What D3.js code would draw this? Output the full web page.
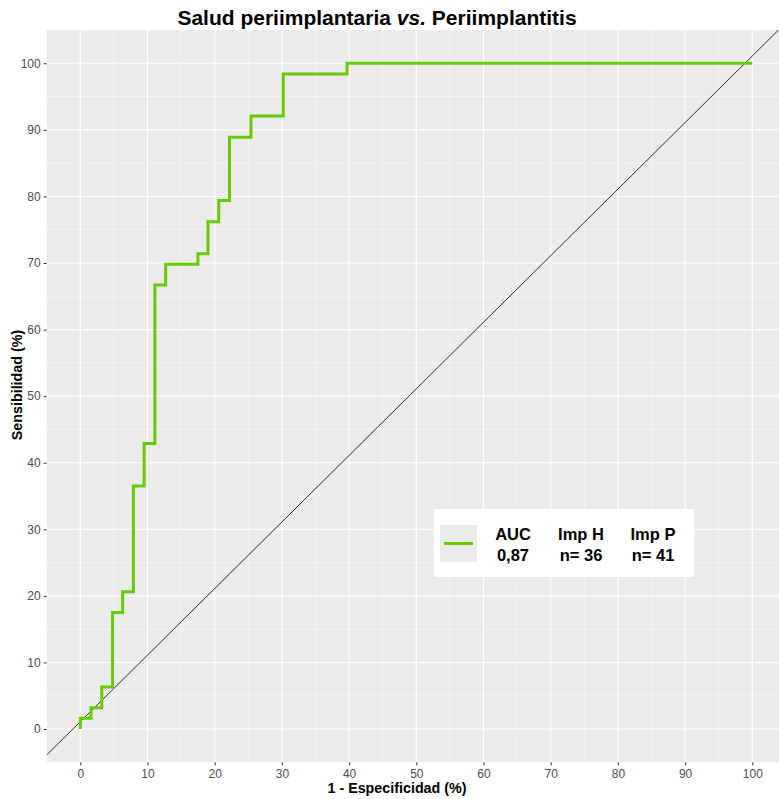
<!DOCTYPE html>
<html>
<head>
<meta charset="utf-8">
<script src="https://cdn.jsdelivr.net/npm/d3@7"></script>
<style>
  html, body { margin: 0; padding: 0; background: #fff; }
  svg { display: block; font-family: "Liberation Sans", Arial, sans-serif; }
</style>
</head>
<body>
<svg id="chart" width="779" height="799"></svg>
<script>
// ROC curve vertices: 1 - specificity (%) and sensitivity (%)
const fpr = [0, 0, 1.6, 1.6, 3.2, 3.2, 4.8, 4.8, 6.3, 6.3, 7.9, 7.9, 9.5, 9.5, 11.1, 11.1, 12.7, 12.7, 17.5, 17.5, 19.0, 19.0, 20.6, 20.6, 22.2, 22.2, 25.4, 25.4, 30.2, 30.2, 39.7, 39.7, 100];
const tpr = [0, 1.6, 1.6, 3.2, 3.2, 6.3, 6.3, 17.5, 17.5, 20.6, 20.6, 36.5, 36.5, 42.9, 42.9, 66.7, 66.7, 69.8, 69.8, 71.4, 71.4, 76.2, 76.2, 79.4, 79.4, 88.9, 88.9, 92.1, 92.1, 98.4, 98.4, 100, 100];
// reference diagonal end points
const diagX = [-5, 105];
const diagY = [-3.9, 106.1];
const xTicks = [0, 10, 20, 30, 40, 50, 60, 70, 80, 90, 100];
const yTicks = [0, 10, 20, 30, 40, 50, 60, 70, 80, 90, 100];
const minorTicks = [5, 15, 25, 35, 45, 55, 65, 75, 85, 95];
const legendCols = [["AUC", "0,87"], ["Imp H", "n= 36"], ["Imp P", "n= 41"]];
const lineColor = "#66CC00";

(function () {
const svg = d3.select("#chart");
const pL = 46.7, pR = 785.9, pT = 30.0, pB = 762.3;
const x = d3.scaleLinear().domain([-5, 105]).range([pL, pR]);
const y = d3.scaleLinear().domain([-5, 105]).range([pB, pT]);

svg.append("defs").append("clipPath").attr("id", "clip")
  .append("rect").attr("x", pL).attr("y", pT).attr("width", pR - pL).attr("height", pB - pT);

// panel
svg.append("rect").attr("x", pL).attr("y", pT).attr("width", pR - pL).attr("height", pB - pT).attr("fill", "#EBEBEB");

const grid = svg.append("g").attr("clip-path", "url(#clip)");
grid.selectAll(".vminor").data(minorTicks).join("line")
  .attr("x1", d => x(d)).attr("x2", d => x(d)).attr("y1", pT).attr("y2", pB)
  .attr("stroke", "#fff").attr("stroke-width", 0.55).attr("opacity", 0.8);
grid.selectAll(".hminor").data(minorTicks).join("line")
  .attr("y1", d => y(d)).attr("y2", d => y(d)).attr("x1", pL).attr("x2", pR)
  .attr("stroke", "#fff").attr("stroke-width", 0.55).attr("opacity", 0.8);
grid.selectAll(".vmajor").data(xTicks).join("line")
  .attr("x1", d => x(d)).attr("x2", d => x(d)).attr("y1", pT).attr("y2", pB)
  .attr("stroke", "#fff").attr("stroke-width", 1.1);
grid.selectAll(".hmajor").data(yTicks).join("line")
  .attr("y1", d => y(d)).attr("y2", d => y(d)).attr("x1", pL).attr("x2", pR)
  .attr("stroke", "#fff").attr("stroke-width", 1.1);

// diagonal
grid.append("line")
  .attr("x1", x(diagX[0])).attr("y1", y(diagY[0]))
  .attr("x2", x(diagX[1])).attr("y2", y(diagY[1]))
  .attr("stroke", "#1a1a1a").attr("stroke-width", 0.9);

// ROC curve
const pts = fpr.map((d, i) => [d, tpr[i]]);
grid.append("path").datum(pts)
  .attr("d", d3.line().x(d => x(d[0])).y(d => y(d[1])))
  .attr("fill", "none").attr("stroke", lineColor).attr("stroke-width", 3)
  .attr("stroke-linejoin", "miter").attr("stroke-linecap", "butt");

// axes
const xAxis = svg.append("g").attr("transform", `translate(0,${pB})`)
  .call(d3.axisBottom(x).tickValues(xTicks).tickSize(3).tickPadding(4));
const yAxis = svg.append("g").attr("transform", `translate(${pL},0)`)
  .call(d3.axisLeft(y).tickValues(yTicks).tickSize(3).tickPadding(3));
[xAxis, yAxis].forEach(g => {
  g.select(".domain").remove();
  g.selectAll(".tick line").attr("stroke", "#333333").attr("stroke-width", 1);
  g.selectAll(".tick text").attr("fill", "#4D4D4D").attr("font-size", 12)
    .attr("font-family", "'Liberation Sans', Arial, sans-serif");
});

// title
const title = svg.append("text").attr("x", 377).attr("y", 25).attr("text-anchor", "middle")
  .attr("font-size", 21).attr("font-weight", "bold").attr("fill", "#000");
title.append("tspan").text("Salud periimplantaria ");
title.append("tspan").attr("font-style", "italic").text("vs.");
title.append("tspan").text(" Periimplantitis");

// axis titles
svg.append("text").attr("x", 397).attr("y", 793).attr("text-anchor", "middle")
  .attr("font-size", 14.3).attr("font-weight", "bold").text("1 - Especificidad (%)");
svg.append("text").attr("transform", "translate(22,385) rotate(-90)").attr("text-anchor", "middle")
  .attr("font-size", 14.3).attr("font-weight", "bold").text("Sensibilidad (%)");

// legend
const lg = svg.append("g");
lg.append("rect").attr("x", 434).attr("y", 509).attr("width", 260).attr("height", 68).attr("fill", "#fff");
lg.append("rect").attr("x", 440).attr("y", 525).attr("width", 37).attr("height", 37).attr("fill", "#EBEBEB");
lg.append("line").attr("x1", 444).attr("x2", 473).attr("y1", 543.5).attr("y2", 543.5)
  .attr("stroke", lineColor).attr("stroke-width", 3);
const colX = [513, 581, 653];
legendCols.forEach((c, i) => {
  lg.append("text").attr("x", colX[i]).attr("y", 540).attr("text-anchor", "middle")
    .attr("font-size", 16.5).attr("font-weight", "bold").text(c[0]);
  lg.append("text").attr("x", colX[i]).attr("y", 561).attr("text-anchor", "middle")
    .attr("font-size", 16.5).attr("font-weight", "bold").text(c[1]);
});
})();
</script>
</body>
</html>
